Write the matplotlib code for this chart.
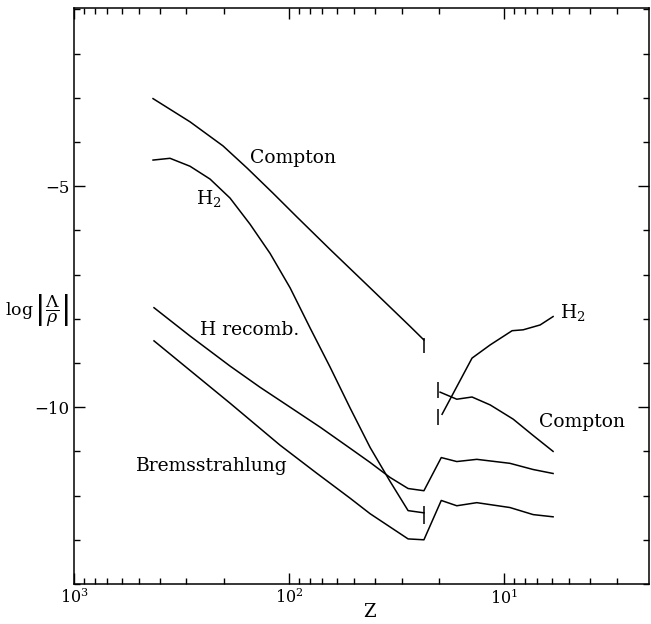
import math
import matplotlib
matplotlib.use("Agg")
import matplotlib.pyplot as plt
from matplotlib.ticker import LogLocator, MultipleLocator, FixedLocator, FuncFormatter

plt.rcParams['font.family'] = ['DejaVu Serif']
plt.rcParams['mathtext.fontset'] = 'dejavuserif'

# ---- data (Z, log|Lambda/rho|) ----
compton_hi_z = [429, 288.7, 202.8, 156.8, 118.7, 91.8, 64.5, 42.0, 27.4, 23.6]
compton_hi_y = [-3.02, -3.545, -4.09, -4.59, -5.16, -5.70, -6.43, -7.30, -8.17, -8.48]

compton_lo_z = [19.85, 16.6, 14.1, 11.6, 9.08, 7.33, 5.92]
compton_lo_y = [-9.66, -9.82, -9.77, -9.95, -10.27, -10.64, -11.0]

h2_hi_z = [429, 357.7, 288.7, 233, 188.1, 151.9, 122.6, 98.9, 79.8, 64.5, 52.0, 42.0, 33.9, 27.96, 23.6]
h2_hi_y = [-4.41, -4.37, -4.55, -4.84, -5.27, -5.86, -6.52, -7.30, -8.21, -9.09, -10.02, -10.91, -11.68, -12.34, -12.39]

h2_lo_z = [19.43, 14.1, 11.6, 9.18, 8.16, 6.8, 5.92]
h2_lo_y = [-10.16, -8.89, -8.59, -8.27, -8.25, -8.14, -7.95]

hrec_z = [424.6, 288.7, 188.1, 136.4, 98.9, 71.8, 52.0, 42.0, 33.9, 27.96, 23.6, 19.6, 16.6, 13.4, 9.4, 7.33, 5.92]
hrec_y = [-7.75, -8.39, -9.07, -9.55, -10.0, -10.45, -10.93, -11.25, -11.59, -11.84, -11.89, -11.14, -11.23, -11.18, -11.27, -11.41, -11.5]

brems_z = [424.6, 188.1, 110.1, 75.0, 52.0, 42.0, 27.96, 23.6, 19.6, 16.6, 13.4, 9.4, 7.33, 5.92]
brems_y = [-8.5, -9.91, -10.86, -11.48, -12.06, -12.41, -12.98, -13.0, -12.11, -12.23, -12.16, -12.27, -12.43, -12.48]

# end markers (vertical bars): Z, y-bottom, y-top
bar_z = [23.6, 23.6, 20.3, 20.3]
bar_lo = [-8.77, -12.64, -9.80, -10.41]
bar_hi = [-8.43, -12.23, -9.43, -10.05]

labels = ["Compton", "H$_2$", "H recomb.", "Bremsstrahlung", "H$_2$", "Compton"]
label_z = [95.8, 235.6, 151.9, 228, 4.78, 4.34]
label_y = [-4.36, -5.27, -8.25, -11.34, -7.86, -10.34]

fig = plt.figure(figsize=(6.51, 6.24), dpi=100)
ax = fig.add_axes([74/651, 1-584/624, (649-74)/651, (584-8)/624])

lw = 1.1
for zs, ys in [(compton_hi_z, compton_hi_y), (compton_lo_z, compton_lo_y),
               (h2_hi_z, h2_hi_y), (h2_lo_z, h2_lo_y),
               (hrec_z, hrec_y), (brems_z, brems_y)]:
    ax.plot(zs, ys, color='black', lw=lw)

ax.vlines(bar_z, bar_lo, bar_hi, color='black', lw=lw)

for t, zx, yy in zip(labels, label_z, label_y):
    ax.text(zx, yy, t, ha='center', va='center', fontsize=13.5)

ax.set_xscale('log')
ax.set_xlim(1000, 2.12)
ax.set_ylim(-14, -0.97)

ax.xaxis.set_major_locator(LogLocator(base=10, numticks=10))
ax.xaxis.set_minor_locator(LogLocator(base=10, subs=range(2, 10), numticks=20))
ax.xaxis.set_major_formatter(FuncFormatter(lambda v, p: r'$10^{%d}$' % round(math.log10(v))))
ax.yaxis.set_major_locator(FixedLocator([-5, -10]))
ax.yaxis.set_minor_locator(MultipleLocator(1))
ax.yaxis.set_major_formatter(FuncFormatter(lambda v, p: '\u2212%d' % abs(v)))

ax.tick_params(which='both', direction='in', top=True, right=True, labelsize=12, width=1)
ax.tick_params(which='major', length=8)
ax.tick_params(which='minor', length=4)
ax.tick_params(axis='x', pad=3, labelsize=11.5)
for s in ax.spines.values():
    s.set_linewidth(1.1)

fig.text(37/651, 1-310/624, r'$\log\left|\dfrac{\Lambda}{\rho}\right|$', ha='center', va='center', fontsize=12.5)
fig.text(370/651, 1-612/624, 'Z', ha='center', va='center', fontsize=13)

fig.savefig('out.png', dpi=100)
